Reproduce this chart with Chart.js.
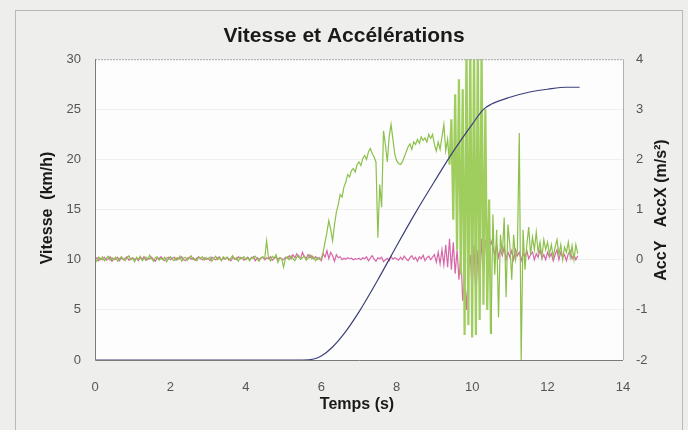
<!DOCTYPE html>
<html>
<head>
<meta charset="utf-8">
<script src="https://cdn.jsdelivr.net/npm/chart.js@4"></script>
<style>
  html, body { margin: 0; padding: 0; background: #ededeb; }
  #wrap { width: 688px; height: 430px; }
</style>
</head>
<body>
<div id="wrap"><canvas id="chart" width="688" height="430"></canvas></div>
<script>
// speed curve (km/h) sampled at a few times
const speedTimes = [0, 5.5, 5.8, 6, 6.3, 6.6, 7, 7.5, 8, 8.5, 9, 9.5, 10, 10.3, 10.5, 11, 11.5, 12, 12.5, 12.85];
const speedValues = [0, 0, 0.1, 0.4, 1.3, 2.6, 4.8, 8, 11.4, 14.7, 17.8, 20.8, 23.5, 25, 25.5, 26.2, 26.7, 27, 27.2, 27.2];

// accelerations (m/s²), one sample every 0.05 s from 0 to 12.8 s
const accStep = 0.05;
const accX = [
  0.02,-0.03,0.05,0.00,0.06,-0.02,0.03,0.07,-0.01,0.04,0.00,0.05,-0.03,0.02,0.06,0.01,-0.02,0.04,0.08,0.00,
  0.03,-0.04,0.05,0.01,0.07,-0.02,0.02,0.05,0.00,0.09,0.02,-0.03,0.04,0.06,-0.01,0.03,0.00,0.05,-0.04,0.02,
  0.06,0.01,-0.02,0.04,0.00,0.07,-0.03,0.03,0.05,-0.01,0.04,0.08,0.00,0.02,-0.02,0.05,0.03,0.06,-0.01,0.04,
  0.01,0.05,-0.03,0.03,0.07,0.00,0.04,-0.02,0.06,0.02,0.05,-0.01,0.03,0.08,0.01,0.04,-0.03,0.05,0.02,0.06,
  0.00,0.04,-0.02,0.05,0.03,0.07,0.01,-0.03,0.04,0.06,0.02,0.38,0.05,-0.02,0.07,0.03,0.10,-0.05,0.04,0.02,
  -0.15,0.03,0.06,0.00,0.08,0.02,-0.02,0.05,0.09,0.01,0.04,0.07,-0.01,0.03,0.10,0.02,0.05,-0.02,0.04,0.01,
  0.02,0.15,0.35,0.55,0.78,0.60,0.38,0.70,0.95,1.10,1.30,1.25,1.45,1.55,1.70,1.65,1.78,1.82,1.75,1.90,
  1.95,1.88,2.02,2.08,2.00,2.15,2.22,2.12,2.05,1.95,0.44,1.50,1.05,2.57,2.30,1.95,2.45,2.70,2.40,2.10,
  1.97,1.92,1.90,1.95,2.05,2.15,2.25,2.31,2.20,2.35,2.30,2.40,2.32,2.45,2.38,2.43,2.35,2.50,2.42,2.50,
  2.30,2.17,2.35,2.20,2.45,2.70,2.17,2.40,1.90,2.80,0.80,3.30,0.20,3.60,-0.30,3.40,-1.50,4.30,-1.30,4.40,
  -1.55,4.40,-1.50,4.30,-1.20,4.20,-0.90,3.00,-1.00,1.20,-1.48,0.90,-0.30,0.60,-1.15,0.50,0.10,0.84,-0.75,0.70,
  0.30,-0.40,0.50,0.00,0.20,2.53,-2.00,0.60,-0.20,0.30,0.65,0.10,0.45,0.20,0.55,0.15,0.35,0.05,0.40,0.20,
  0.35,0.10,0.30,0.05,0.25,0.40,0.10,0.30,0.00,0.25,0.15,0.35,0.05,0.28,0.00,0.30,0.12
];
const accY = [
  0.01,0.04,-0.02,0.03,0.00,0.05,-0.01,0.02,0.06,-0.03,0.03,0.01,0.05,-0.02,0.04,0.00,0.03,0.06,-0.01,0.02,
  0.04,0.00,0.03,-0.02,0.05,0.01,0.06,-0.01,0.03,0.02,0.05,0.00,-0.03,0.04,0.02,0.06,0.01,-0.02,0.03,0.05,
  0.00,0.03,0.05,-0.01,0.04,0.02,0.06,0.00,-0.02,0.03,0.05,0.01,0.04,-0.01,0.03,0.06,0.02,0.00,0.04,0.01,
  0.03,-0.02,0.05,0.02,0.00,0.04,0.06,-0.01,0.03,0.01,0.05,0.02,-0.02,0.04,0.03,0.00,0.06,0.02,0.04,-0.01,
  0.02,0.05,0.00,0.03,0.06,-0.02,0.04,0.01,0.03,0.05,0.00,0.04,0.02,0.06,-0.01,0.03,0.05,0.01,0.04,0.02,
  0.00,0.05,0.03,0.08,0.02,0.10,0.04,0.12,0.05,0.02,0.15,0.06,0.03,0.10,0.04,0.08,0.02,0.06,0.01,0.04,
  -0.02,0.12,0.05,0.18,0.02,0.15,0.08,-0.03,0.10,0.04,0.06,0.00,0.03,0.01,0.04,0.02,0.03,0.00,0.02,0.01,
  0.03,0.00,0.04,0.02,0.06,-0.02,0.03,0.08,0.01,-0.03,0.04,0.02,0.05,-0.04,0.00,0.03,-0.02,0.06,0.01,0.04,
  0.02,-0.01,0.05,0.00,0.07,0.02,-0.02,0.04,0.08,0.01,0.05,-0.03,0.06,0.02,0.09,-0.02,0.04,0.07,0.00,0.05,
  0.10,-0.05,0.15,-0.08,0.20,-0.10,0.30,-0.15,0.42,-0.20,0.35,-0.28,0.20,-0.40,0.10,-0.82,-0.30,-1.00,-0.20,0.10,
  -0.60,0.30,-0.80,0.20,-0.50,0.42,-0.30,0.35,0.45,0.20,0.38,0.25,0.10,0.30,0.05,0.20,0.08,0.25,0.00,0.15,
  0.05,0.18,0.00,0.20,0.08,0.15,-0.02,0.12,0.05,0.18,0.02,0.10,0.15,0.00,0.12,0.05,0.20,0.03,0.10,0.00,
  0.15,0.05,0.12,-0.02,0.10,0.20,0.00,0.15,0.05,0.10,-0.02,0.12,0.18,0.02,0.10,0.00,0.08
];

const xTicks = [0, 2, 4, 6, 8, 10, 12, 14];

const toPoints = (times, values) => values.map((v, i) => ({ x: times[i], y: v }));
const accTimes = accX.map((_, i) => +(i * accStep).toFixed(2));

const FONT = "'Liberation Sans', Arial, sans-serif";

// thicker, paler strokes where the accelerometer goes wild
const inBurst = (c) => c.p0.parsed.x >= 9.4 && c.p1.parsed.x <= 10.5;

// page background, frame, white plot area and titles
const decor = {
  id: "decor",
  beforeDraw(chart) {
    const { ctx, chartArea: a } = chart;
    ctx.save();
    ctx.fillStyle = "#eeeeec";
    ctx.fillRect(0, 0, chart.width, chart.height);
    ctx.strokeStyle = "#b9b9b9";
    ctx.lineWidth = 1;
    ctx.strokeRect(15.5, 10.5, 667, 440);
    ctx.fillStyle = "#fdfdfd";
    ctx.fillRect(a.left, a.top, a.right - a.left, a.bottom - a.top);
    ctx.restore();
  },
  afterDraw(chart) {
    const { ctx, chartArea: a } = chart;
    ctx.save();
    ctx.strokeStyle = "#a8a8a8";
    ctx.lineWidth = 1;
    ctx.setLineDash([2, 1]);
    ctx.beginPath();
    ctx.moveTo(a.left, a.top + 0.5);
    ctx.lineTo(a.right + 0.5, a.top + 0.5);
    ctx.stroke();
    ctx.setLineDash([]);
    ctx.strokeStyle = "#b0b0b0";
    ctx.beginPath();
    ctx.moveTo(a.right + 0.5, a.top);
    ctx.lineTo(a.right + 0.5, a.bottom);
    ctx.stroke();
    ctx.strokeStyle = "#7a7a7a";
    ctx.beginPath();
    ctx.moveTo(a.left + 0.5, a.top);
    ctx.lineTo(a.left + 0.5, a.bottom + 0.5);
    ctx.lineTo(a.right, a.bottom + 0.5);
    ctx.stroke();

    ctx.fillStyle = "#1a1a1a";
    ctx.font = "bold 16px " + FONT;
    ctx.textAlign = "center";
    ctx.textBaseline = "middle";
    ctx.fillText("Temps (s)", 357, 405);

    ctx.translate(48, 208);
    ctx.rotate(-Math.PI / 2);
    ctx.fillText("Vitesse  (km/h)", 0, 0);
    ctx.setTransform(1, 0, 0, 1, 0, 0);

    ctx.translate(662, 210);
    ctx.rotate(-Math.PI / 2);
    ctx.fillText("AccY   AccX (m/s\u00B2)", 0, 0);
    ctx.restore();
  },
};

new Chart(document.getElementById("chart"), {
  type: "line",
  data: {
    datasets: [
      {
        label: "Vitesse",
        data: toPoints(speedTimes, speedValues),
        yAxisID: "y",
        borderColor: "#3d4178",
        borderWidth: 1.2,
        pointRadius: 0,
        cubicInterpolationMode: "monotone",
      },
      {
        label: "AccX",
        data: toPoints(accTimes, accX),
        yAxisID: "y1",
        borderColor: "#8cc04a",
        borderWidth: 1.2,
        pointRadius: 0,
        segment: {
          borderWidth: (c) => (inBurst(c) ? 2.2 : 1.2),
          borderColor: (c) => (inBurst(c) ? "#9fcd5e" : "#8cc04a"),
        },
      },
      {
        label: "AccY",
        data: toPoints(accTimes, accY),
        yAxisID: "y1",
        borderColor: "#d866a8",
        borderWidth: 1.2,
        pointRadius: 0,
      },
    ],
  },
  options: {
    responsive: false,
    animation: false,
    layout: { padding: 0 },
    plugins: {
      legend: { display: false },
      tooltip: { enabled: false },
      title: {
        display: true,
        text: "Vitesse et Accélérations",
        color: "#1a1a1a",
        font: { family: FONT, size: 21, weight: "bold" },
        padding: { top: 24, bottom: 10 },
      },
    },
    scales: {
      x: {
        type: "linear",
        min: 0,
        max: 14,
        afterBuildTicks: (s) => { s.ticks = xTicks.map((v) => ({ value: v })); },
        afterFit: (s) => { s.height = 70; },
        grid: { display: false, drawTicks: false },
        border: { display: false },
        ticks: { padding: 20, color: "#555", font: { family: FONT, size: 13 } },
      },
      y: {
        position: "left",
        min: 0,
        max: 30,
        afterFit: (s) => { s.width = 95; },
        grid: { color: "#efefef", drawTicks: false },
        border: { display: false },
        ticks: { stepSize: 5, padding: 14, color: "#555", font: { family: FONT, size: 13 } },
      },
      y1: {
        position: "right",
        min: -2,
        max: 4,
        afterFit: (s) => { s.width = 65; },
        grid: { display: false, drawTicks: false },
        border: { display: false },
        ticks: { stepSize: 1, padding: 13, color: "#555", font: { family: FONT, size: 13 } },
      },
    },
  },
  plugins: [decor],
});
</script>
</body>
</html>
